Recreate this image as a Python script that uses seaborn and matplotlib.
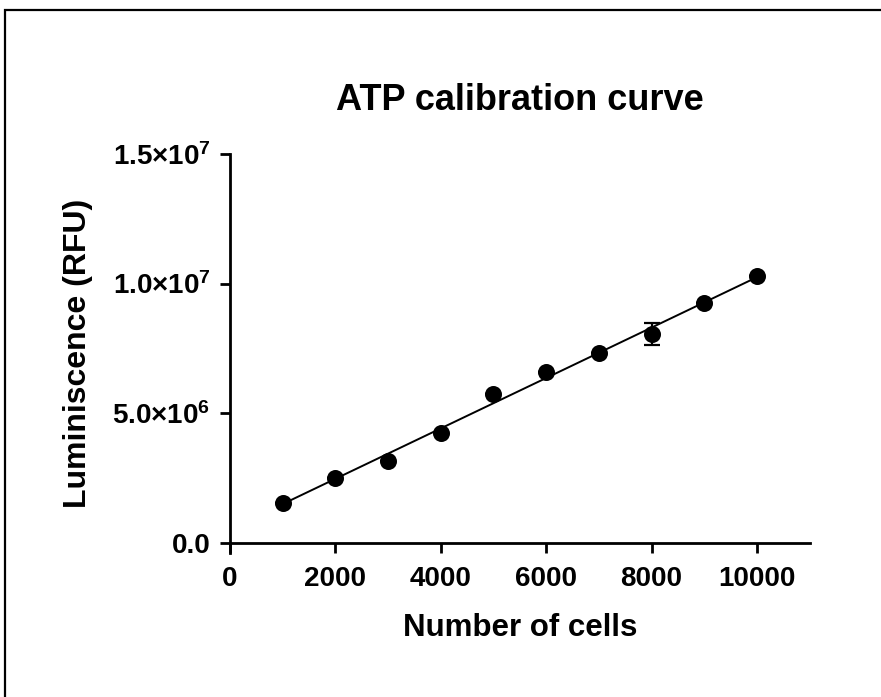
import numpy as np
import pandas as pd
import matplotlib
matplotlib.use("Agg")
import matplotlib.pyplot as plt
from matplotlib.patches import Rectangle
import seaborn as sns

# values
cells = [1000, 2000, 3000, 4000, 5000, 6000, 7000, 8000, 9000, 10000]
lum = [1.54e6, 2.50e6, 3.16e6, 4.24e6, 5.74e6, 6.59e6, 7.32e6, 8.05e6, 9.25e6, 10.29e6]
lum_err = [0, 0, 0, 0, 0, 0, 0, 0.41e6, 0, 0]

x_ticks = [0, 2000, 4000, 6000, 8000, 10000]
y_ticks = [0, 5e6, 1e7, 1.5e7]
y_tick_labels = ["0.0", "5.0×10$^{6}$", "1.0×10$^{7}$", "1.5×10$^{7}$"]

df = pd.DataFrame({"cells": cells, "lum": lum, "err": lum_err})

sns.set_theme(style="ticks")
plt.rcParams["font.family"] = ["Liberation Sans", "DejaVu Sans"]
plt.rcParams["font.weight"] = "bold"
plt.rcParams["mathtext.fontset"] = "custom"
plt.rcParams["mathtext.rm"] = "Liberation Sans:bold"
plt.rcParams["mathtext.it"] = "Liberation Sans:bold"
plt.rcParams["mathtext.bf"] = "Liberation Sans:bold"
plt.rcParams["text.color"] = "black"
plt.rcParams["axes.labelcolor"] = "black"

fig = plt.figure(figsize=(8.81, 6.97), dpi=100)
ax = fig.add_axes([0.261, 0.2066, 0.658, 0.5724])

sns.regplot(data=df, x="cells", y="lum", ax=ax, ci=None, scatter=False, truncate=True,
            line_kws={"color": "black", "lw": 1.4})
ax.errorbar(df["cells"], df["lum"], yerr=df["err"], fmt="none", ecolor="black",
            elinewidth=1.6, capsize=6, capthick=1.6)
sns.scatterplot(data=df, x="cells", y="lum", ax=ax, color="black", s=150,
                edgecolor="black", linewidth=0, zorder=5)

ax.set_xlim(0, 11000)
ax.set_ylim(-0.4e6, 1.5e7)
ax.spines["bottom"].set_position(("data", 0))
ax.spines["top"].set_visible(False)
ax.spines["right"].set_visible(False)
for s in ("left", "bottom"):
    ax.spines[s].set_linewidth(2)
    ax.spines[s].set_color("black")

ax.set_xticks(x_ticks)
ax.set_xticklabels([str(t) for t in x_ticks])
ax.set_yticks(y_ticks)
ax.set_yticklabels(y_tick_labels)
ax.tick_params(axis="both", direction="out", length=7, width=2, labelsize=20,
               colors="black", labelcolor="black")
ax.tick_params(axis="x", pad=10)
ax.tick_params(axis="y", pad=7)
for lab in ax.get_xticklabels() + ax.get_yticklabels():
    lab.set_fontweight("bold")

ax.set_xlabel("Number of cells", fontsize=22.5, fontweight="bold", labelpad=15, color="black")
ax.set_ylabel("Luminiscence (RFU)", fontsize=23, fontweight="bold", labelpad=14, color="black")
ax.set_title("ATP calibration curve", fontsize=26, fontweight="bold", pad=32, color="black")

# outer frame (right and bottom edges fall outside the picture)
fig.add_artist(Rectangle((5 / 881, -0.1), 1.2, 1.1 - 10 / 697, transform=fig.transFigure,
                         fill=False, lw=1.6, edgecolor="black"))

fig.savefig("out.png", dpi=100)
